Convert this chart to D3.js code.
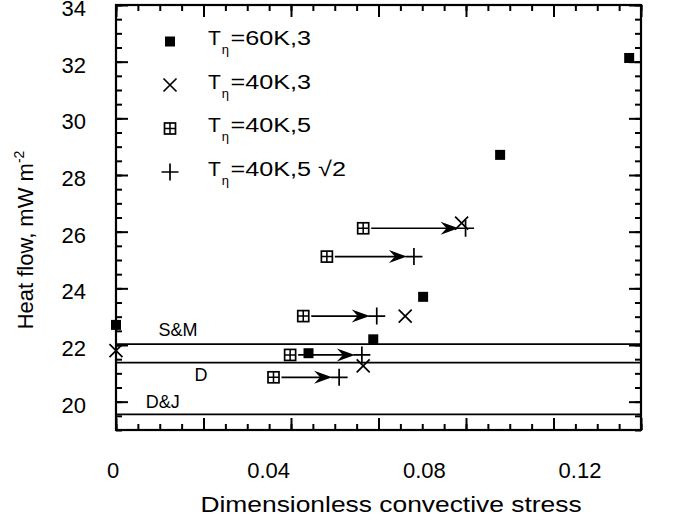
<!DOCTYPE html>
<html>
<head>
<meta charset="utf-8">
<script src="https://cdn.jsdelivr.net/npm/d3@7"></script>
<style>
  body { margin: 0; background: #fff; }
  text { font-family: "Liberation Sans", Arial, Helvetica, sans-serif; fill: #000; }
</style>
</head>
<body>
<svg id="chart" width="675" height="520"></svg>
<script>
// Model runs: dimensionless convective stress vs. surface heat flow (mW m^-2)
const stress60K3 = [0.0, 0.0440, 0.0588, 0.0702, 0.0878, 0.1173];
const heat60K3   = [22.71, 21.71, 22.20, 23.70, 28.71, 32.13];

const stress40K3 = [0.0, 0.0565, 0.0661, 0.0790];
const heat40K3   = [21.80, 21.26, 23.02, 26.30];

const stress40K5 = [0.0565, 0.0482, 0.0428, 0.0398, 0.0360];
const heat40K5   = [26.12, 25.12, 23.02, 21.65, 20.86];

const stress40K5r2 = [0.0799, 0.0681, 0.0596, 0.0562, 0.0510];
const heat40K5r2   = [26.12, 25.12, 23.02, 21.65, 20.86];

// Published reference heat-flow levels
const refNames = ["S&M", "D", "D&J"];
const refHeat  = [22.03, 21.375, 19.55];
const refLabelStress = [0.0142, 0.0194, 0.0107];

// Axis ticks and labels
const xTickValues = [0, 0.04, 0.08, 0.12];
const xTickLabels = ["0", "0.04", "0.08", "0.12"];
const yTickValues = [20, 22, 24, 26, 28, 30, 32, 34];
const yTickLabels = ["20", "22", "24", "26", "28", "30", "32", "34"];

// Legend entries: T with subscript eta, then the rest of the label
const legendTail = ["=60K,3", "=40K,3", "=40K,5", "=40K,5 \u221A2"];
const legendKinds = ["square", "cross", "grid", "plus"];

const svg = d3.select("#chart");
const plotL = 116, plotR = 641, plotT = 5, plotB = 430;

const x = d3.scaleLinear().domain([0, 0.12]).range([plotL, plotR]);
const y = d3.scaleLinear().domain([19, 34]).range([plotB, plotT]);
// tick labels sit on a slightly compressed scale beneath the axis
const xLabel = d3.scaleLinear().domain([0, 0.12]).range([113, 580]);

const SW = 1.7;

// ---- ticks on all four sides, pointing inward ----
function addTicks(axis, tx, ty) {
  const g = svg.append("g").attr("transform", `translate(${tx},${ty})`).call(axis);
  g.select(".domain").remove();
  g.selectAll("line").attr("stroke", "#000").attr("stroke-width", 2);
  g.selectAll("text").remove();
}
const xMajor = d3.range(0, 0.12001, 0.02);
const xMinor = d3.range(0, 0.12001, 0.005);
const yMajor = d3.range(20, 34.01, 2);
const yMinor = d3.range(19, 34.01, 0.5);

addTicks(d3.axisBottom(x).tickValues(xMinor).tickSize(-6), 0, plotB);
addTicks(d3.axisBottom(x).tickValues(xMajor).tickSize(-12), 0, plotB);
addTicks(d3.axisTop(x).tickValues(xMinor).tickSize(-6), 0, plotT);
addTicks(d3.axisTop(x).tickValues(xMajor).tickSize(-12), 0, plotT);
addTicks(d3.axisLeft(y).tickValues(yMinor).tickSize(-6), plotL, 0);
addTicks(d3.axisLeft(y).tickValues(yMajor).tickSize(-12), plotL, 0);
addTicks(d3.axisRight(y).tickValues(yMinor).tickSize(-6), plotR, 0);
addTicks(d3.axisRight(y).tickValues(yMajor).tickSize(-12), plotR, 0);

// frame
svg.append("rect")
  .attr("x", plotL).attr("y", plotT)
  .attr("width", plotR - plotL).attr("height", plotB - plotT)
  .attr("fill", "none").attr("stroke", "#000").attr("stroke-width", 2.2);

// tick labels
svg.append("g").selectAll("text").data(xTickValues).join("text")
  .attr("x", d => xLabel(d)).attr("y", 478)
  .attr("text-anchor", "middle").attr("font-size", 22)
  .text((d, i) => xTickLabels[i]);

svg.append("g").selectAll("text").data(yTickValues).join("text")
  .attr("x", 86).attr("y", d => y(d) + 11)
  .attr("text-anchor", "end").attr("font-size", 22)
  .text((d, i) => yTickLabels[i]);

// axis titles
svg.append("text")
  .attr("transform", "translate(391,512) scale(1.2,1)")
  .attr("text-anchor", "middle").attr("font-size", 22)
  .text("Dimensionless convective stress");

const yTitle = svg.append("text")
  .attr("transform", "translate(33,240) rotate(-90)")
  .attr("text-anchor", "middle").attr("font-size", 22);
yTitle.append("tspan").text("Heat flow, mW m");
yTitle.append("tspan").attr("dy", -9).attr("font-size", 14).text("-2");

// ---- reference lines ----
svg.append("g").selectAll("line").data(refHeat).join("line")
  .attr("x1", plotL).attr("x2", plotR)
  .attr("y1", d => y(d)).attr("y2", d => y(d))
  .attr("stroke", "#000").attr("stroke-width", SW);

const refLabelDy = [-8, 18.5, -6];
svg.append("g").selectAll("text").data(refNames).join("text")
  .attr("x", (d, i) => x(refLabelStress[i]))
  .attr("y", (d, i) => y(refHeat[i]) + refLabelDy[i])
  .attr("text-anchor", "middle").attr("font-size", 18)
  .text(d => d);

// ---- marker symbols ----
function drawMarker(g, kind, cx, cy) {
  if (kind === "square") {
    g.append("rect").attr("x", cx - 5).attr("y", cy - 5)
      .attr("width", 10).attr("height", 10).attr("fill", "#000");
  } else if (kind === "cross") {
    const r = 6.5;
    g.append("path")
      .attr("d", `M${cx - r},${cy - r}L${cx + r},${cy + r}M${cx - r},${cy + r}L${cx + r},${cy - r}`)
      .attr("stroke", "#000").attr("stroke-width", SW).attr("fill", "none");
  } else if (kind === "grid") {
    const r = 5.5;
    g.append("rect").attr("x", cx - r).attr("y", cy - r)
      .attr("width", 2 * r).attr("height", 2 * r)
      .attr("fill", "#fff").attr("stroke", "#000").attr("stroke-width", SW);
    g.append("path")
      .attr("d", `M${cx - r},${cy}L${cx + r},${cy}M${cx},${cy - r}L${cx},${cy + r}`)
      .attr("stroke", "#000").attr("stroke-width", SW * 0.9);
  } else if (kind === "plus") {
    const r = 8.5;
    g.append("path")
      .attr("d", `M${cx - r},${cy}L${cx + r},${cy}M${cx},${cy - r}L${cx},${cy + r}`)
      .attr("stroke", "#000").attr("stroke-width", SW);
  }
}

// ---- arrows from 40K,5 runs to the matching 40K,5 sqrt2 runs ----
const arrows = svg.append("g");
stress40K5.forEach((s, i) => {
  const yy = y(heat40K5[i]);
  const x1 = x(s) + 8, x2 = x(stress40K5r2[i]) - 7;
  arrows.append("line").attr("x1", x1).attr("x2", x2 - 10)
    .attr("y1", yy).attr("y2", yy)
    .attr("stroke", "#000").attr("stroke-width", SW);
  arrows.append("path")
    .attr("d", `M${x2},${yy}L${x2 - 18},${yy - 6.5}L${x2 - 12},${yy}L${x2 - 18},${yy + 6.5}Z`)
    .attr("fill", "#000");
});

const pts = svg.append("g");
stress40K5.forEach((s, i) => drawMarker(pts, "grid", x(s), y(heat40K5[i])));
stress40K5r2.forEach((s, i) => drawMarker(pts, "plus", x(s), y(heat40K5r2[i])));
stress40K3.forEach((s, i) => drawMarker(pts, "cross", x(s), y(heat40K3[i])));
stress60K3.forEach((s, i) => drawMarker(pts, "square", x(s), y(heat60K3[i])));

// ---- legend ----
const legend = svg.append("g");
legendKinds.forEach((k, i) => {
  const ly = 41.5 + i * 43.5;
  drawMarker(legend, k, 170, ly);
  const base = ly + 3.5;
  const tT = legend.append("text").attr("x", 208).attr("y", base)
    .attr("font-size", 21).text("T");
  const tw = tT.node().getComputedTextLength();
  const sub = legend.append("text").attr("x", 208 + tw + 1).attr("y", base + 9)
    .attr("font-size", 13).text("\u03B7");
  const sw = sub.node().getComputedTextLength();
  legend.append("text")
    .attr("transform", `translate(${208 + tw + sw + 2.5},${base}) scale(1.2,1)`)
    .attr("font-size", 21).text(legendTail[i]);
});
</script>
</body>
</html>
